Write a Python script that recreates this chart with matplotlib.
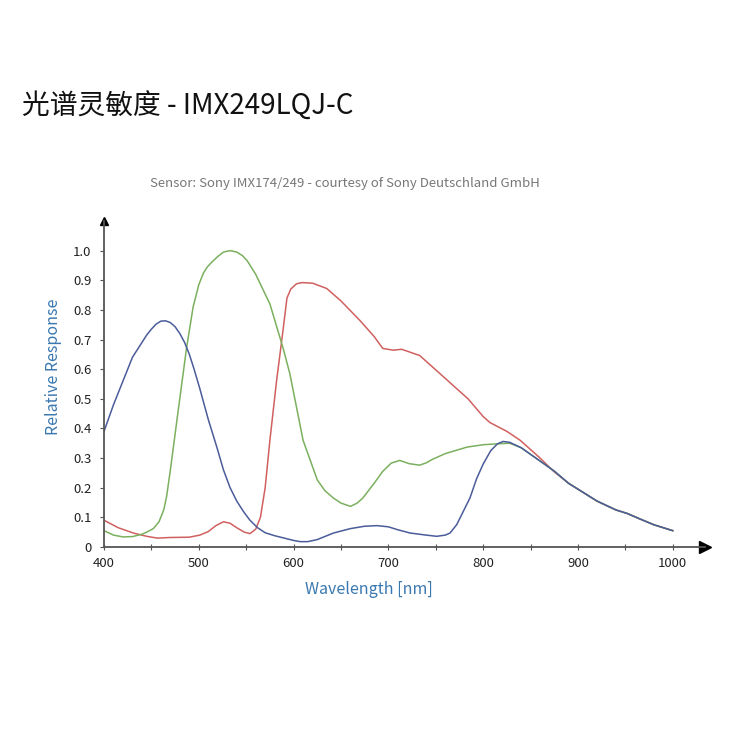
import numpy as np
import matplotlib.pyplot as plt

plt.rcParams['font.family'] = ['Noto Sans CJK SC', 'DejaVu Sans']

# blue channel
blue_wl = [400, 410, 420, 430, 440, 445, 450, 455, 460, 465, 470, 475, 480, 485, 490, 495,
           501, 510, 519, 526, 533, 540, 547, 554, 562, 570, 580, 590, 600, 607, 615, 625,
           642, 660, 675, 688, 700, 710, 723, 740, 751, 760, 765, 772, 779, 786, 793, 800,
           808, 815, 821, 828, 840, 860, 875, 890, 905, 920, 940, 952, 965, 980, 1000]
blue_val = [0.39, 0.48, 0.56, 0.64, 0.69, 0.715, 0.735, 0.752, 0.762, 0.763, 0.757, 0.743, 0.72,
            0.69, 0.65, 0.60, 0.535, 0.43, 0.337, 0.26, 0.2, 0.155, 0.12, 0.09, 0.065, 0.048,
            0.038, 0.03, 0.022, 0.018, 0.018, 0.025, 0.047, 0.062, 0.07, 0.072, 0.068, 0.058,
            0.047, 0.04, 0.036, 0.04, 0.047, 0.075, 0.12, 0.165, 0.23, 0.28, 0.325, 0.348, 0.356,
            0.353, 0.335, 0.29, 0.256, 0.215, 0.185, 0.155, 0.125, 0.113, 0.095, 0.075, 0.055]

# green channel
green_wl = [400, 410, 420, 430, 440, 445, 452, 458, 463, 466, 470, 477, 487, 494, 500, 505,
            509, 514, 520, 526, 533, 540, 546, 551, 560, 575, 589, 596, 610, 625, 633, 642,
            650, 660, 667, 673, 685, 694, 703, 712, 722, 733, 740, 746, 760, 783, 800, 815,
            828, 840, 860, 875, 890, 905, 920, 940, 952, 965, 980, 1000]
green_val = [0.055, 0.04, 0.034, 0.035, 0.043, 0.05, 0.062, 0.085, 0.125, 0.17, 0.26, 0.43, 0.67,
             0.81, 0.885, 0.925, 0.945, 0.962, 0.98, 0.995, 1.0, 0.995, 0.983, 0.966, 0.92, 0.82,
             0.67, 0.585, 0.36, 0.226, 0.19, 0.165, 0.148, 0.137, 0.148, 0.165, 0.215, 0.255,
             0.283, 0.292, 0.281, 0.276, 0.284, 0.295, 0.315, 0.337, 0.345, 0.348, 0.35, 0.335,
             0.29, 0.256, 0.215, 0.185, 0.155, 0.125, 0.113, 0.095, 0.075, 0.055]

# red channel
red_wl = [400, 415, 431, 445, 456, 470, 490, 501, 510, 518, 526, 533, 540, 548, 554, 560,
          565, 570, 575, 582, 588, 593, 597, 603, 609, 620, 635, 650, 670, 685, 694, 705,
          714, 733, 754, 770, 784, 800, 807, 825, 839, 860, 874, 890, 905, 920, 940, 952,
          965, 980, 1000]
red_val = [0.09, 0.065, 0.047, 0.036, 0.03, 0.032, 0.033, 0.04, 0.052, 0.072, 0.085, 0.08, 0.065,
           0.05, 0.045, 0.06, 0.1, 0.2, 0.36, 0.56, 0.71, 0.84, 0.87, 0.888, 0.892, 0.89, 0.872,
           0.83, 0.764, 0.71, 0.67, 0.664, 0.667, 0.646, 0.586, 0.54, 0.5, 0.44, 0.42, 0.39,
           0.36, 0.3, 0.256, 0.215, 0.185, 0.155, 0.125, 0.113, 0.095, 0.075, 0.055]

yticks = np.round(np.arange(0, 1.01, 0.1), 1)
ytick_labels = ['0'] + ['%.1f' % v for v in yticks[1:]]
xticks = [400, 500, 600, 700, 800, 900, 1000]

fig = plt.figure(figsize=(7.5, 7.5), dpi=100)
ax = fig.add_axes([0.1387, 0.2707, 0.8013, 0.4347])

ax.plot(red_wl, red_val, color='#d0605f', lw=1.1)
ax.plot(green_wl, green_val, color='#7bb05e', lw=1.1)
ax.plot(blue_wl, blue_val, color='#4a5c9a', lw=1.1)

ax.set_xlim(400, 1034)
ax.set_ylim(0, 1.1)

for s in ['top', 'right']:
    ax.spines[s].set_visible(False)
for s in ['left', 'bottom']:
    ax.spines[s].set_color('#555555')
    ax.spines[s].set_linewidth(1.3)

# arrow heads at axis ends
ax.plot(1, 0, '>', color='black', ms=8, transform=ax.transAxes, clip_on=False)
ax.plot(0, 1, '^', color='black', ms=6, transform=ax.transAxes, clip_on=False)

ax.set_xticks(xticks)
ax.set_xticks([450, 550, 650, 750, 850, 950], minor=True)
ax.set_yticks(yticks)
ax.set_yticklabels(ytick_labels)
ax.tick_params(axis='x', direction='inout', length=5, width=0.8, colors='#555555',
               labelcolor='#222222', labelsize=9.5, pad=5)
ax.tick_params(axis='x', which='minor', direction='inout', length=4, width=0.8, colors='#555555')
ax.tick_params(axis='y', direction='out', length=3, width=0.8, colors='#555555',
               labelcolor='#222222', labelsize=9.5, pad=6)

ax.set_xlabel('Wavelength [nm]', color='#3a78b0', fontsize=11.5)
ax.xaxis.set_label_coords(0.44, -0.105)
ax.set_ylabel('Relative Response', color='#3a78b0', fontsize=11.5)
ax.yaxis.set_label_coords(-0.07, 0.552)

fig.text(0.46, 0.756, 'Sensor: Sony IMX174/249 - courtesy of Sony Deutschland GmbH',
         ha='center', va='center', color='#777777', fontsize=9.5)
fig.text(0.029, 0.857, '光谱灵敏度 - IMX249LQJ-C', ha='left', va='center',
         color='#111111', fontsize=20, fontweight='medium')

fig.savefig('out.png', dpi=100, facecolor='white')
